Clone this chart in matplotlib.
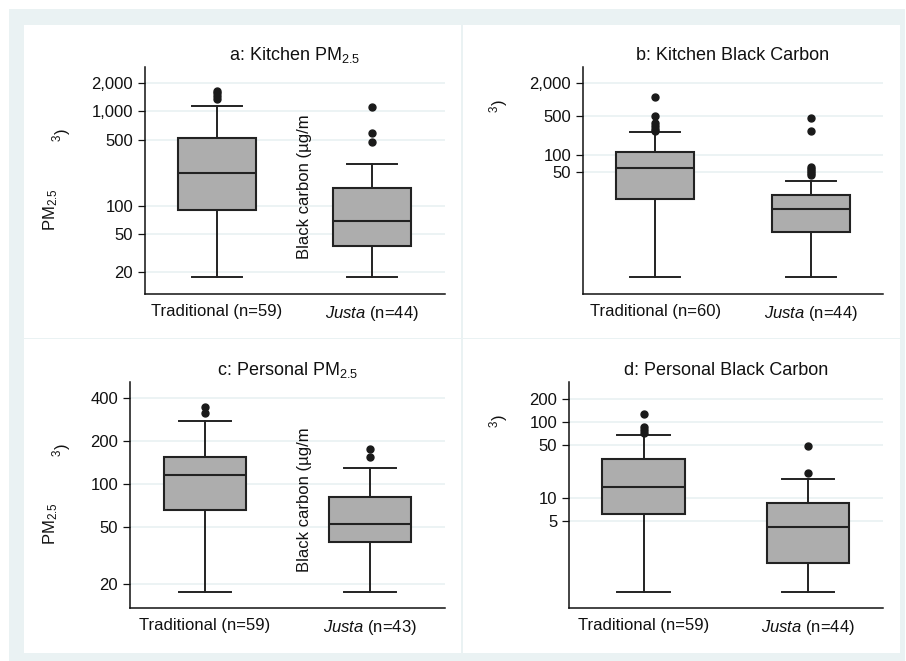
import matplotlib
matplotlib.use("Agg")
import matplotlib.pyplot as plt
from matplotlib.patches import Rectangle

plt.rcParams['font.family'] = ['Liberation Sans', 'DejaVu Sans']
plt.rcParams['mathtext.fontset'] = 'custom'
plt.rcParams['mathtext.rm'] = 'Liberation Sans'
plt.rcParams['mathtext.it'] = 'Liberation Sans:italic'

# ---- data ----
titles = ["a: Kitchen PM$_{2.5}$", "b: Kitchen Black Carbon",
          "c: Personal PM$_{2.5}$", "d: Personal Black Carbon"]
groups = ["Traditional", "Justa"]
n_a = [59, 44]
n_b = [60, 44]
n_c = [59, 43]
n_d = [59, 44]

# [whislo, q1, median, q3, whishi]
a_trad = [17.7, 90.6, 223, 524, 1143]
a_trad_out = [1350, 1450, 1550, 1650]
a_justa = [17.7, 37.7, 69.3, 155, 278]
a_justa_out = [475, 591, 1114]

b_trad = [0.647, 16.3, 59, 114.6, 262]
b_trad_out = [275, 300, 330, 380, 508, 1116]
b_justa = [0.647, 4.16, 10.8, 19.3, 34.5]
b_justa_out = [44, 48, 52, 56, 61, 272, 467]

c_trad = [17.6, 65.8, 115.6, 154.5, 276]
c_trad_out = [314, 345]
c_justa = [17.6, 39.3, 52.5, 81, 129.4]
c_justa_out = [154.5, 175.6]

d_trad = [0.58, 6.17, 13.9, 32.5, 67]
d_trad_out = [72, 78, 85, 126]
d_justa = [0.58, 1.40, 4.16, 8.6, 17.8]
d_justa_out = [21.3, 48.2]

ticks_a = [20, 50, 100, 500, 1000, 2000]
ticks_b = [50, 100, 500, 2000]
ticks_c = [20, 50, 100, 200, 400]
ticks_d = [5, 10, 50, 100, 200]

# ---- figure ----
W, H = 906, 661
fig = plt.figure(figsize=(W / 100, H / 100), dpi=100)
LIGHT = '#eaf2f3'

def fx(x):
    return x / W

def fy(y):
    return 1 - y / H

fig.patches.append(Rectangle((fx(9), fy(661)), fx(905) - fx(9), fy(9) - fy(661),
                             transform=fig.transFigure, facecolor=LIGHT,
                             edgecolor='none', zorder=-3))
for (x0, y0, x1, y1) in [(24, 25, 461.5, 337.5), (462.5, 25, 900, 337.5),
                         (24, 338.5, 461.5, 653), (462.5, 338.5, 900, 653)]:
    fig.patches.append(Rectangle((fx(x0), fy(y1)), fx(x1) - fx(x0), fy(y0) - fy(y1),
                                 transform=fig.transFigure, facecolor='white',
                                 edgecolor='none', zorder=-2))

def fmt(v):
    return f"{v:,}"

def stats(v, out):
    return dict(whislo=v[0], q1=v[1], med=v[2], q3=v[3], whishi=v[4], fliers=out)

panels = [
    dict(box=(145, 67, 445, 294), ylim=(11.7, 2952), xlim=(0.535, 2.47),
         data=[(a_trad, a_trad_out), (a_justa, a_justa_out)], ticks=ticks_a, n=n_a),
    dict(box=(583, 67, 883, 294), ylim=(0.32, 3880), xlim=(0.538, 2.46),
         data=[(b_trad, b_trad_out), (b_justa, b_justa_out)], ticks=ticks_b, n=n_b),
    dict(box=(130, 382, 445, 608), ylim=(13.6, 517), xlim=(0.545, 2.455),
         data=[(c_trad, c_trad_out), (c_justa, c_justa_out)], ticks=ticks_c, n=n_c),
    dict(box=(569, 382, 883, 608), ylim=(0.36, 334), xlim=(0.547, 2.456),
         data=[(d_trad, d_trad_out), (d_justa, d_justa_out)], ticks=ticks_d, n=n_d),
]

EDGE = '#222222'
for i, p in enumerate(panels):
    x0, y0, x1, y1 = p['box']
    ax = fig.add_axes([fx(x0), fy(y1), fx(x1) - fx(x0), fy(y0) - fy(y1)])
    ax.set_zorder(1)
    ax.set_facecolor('none')
    ax.set_yscale('log')
    st = [stats(v, o) for v, o in p['data']]
    ax.bxp(st, positions=[1, 2], widths=0.5, patch_artist=True, showfliers=True,
           boxprops=dict(facecolor='#adadad', edgecolor=EDGE, linewidth=1.5),
           medianprops=dict(color=EDGE, linewidth=1.5),
           whiskerprops=dict(color=EDGE, linewidth=1.4),
           capprops=dict(color=EDGE, linewidth=1.4),
           capwidths=0.32,
           flierprops=dict(marker='o', markerfacecolor='#1a1a1a',
                           markeredgecolor='#1a1a1a', markersize=5, linestyle='none'))
    ax.set_xlim(*p['xlim'])
    ax.set_ylim(*p['ylim'])
    ax.set_yticks(p['ticks'])
    ax.set_yticklabels([fmt(t) for t in p['ticks']])
    ax.yaxis.set_minor_locator(matplotlib.ticker.NullLocator())
    ax.set_xticks([1, 2])
    ax.set_xticklabels([f"Traditional (n={p['n'][0]})",
                        f"$\\mathit{{Justa}}$ (n={p['n'][1]})"])
    ax.tick_params(axis='x', length=0, pad=7, labelsize=12, colors='#111111')
    ax.tick_params(axis='y', length=5, width=0.9, pad=3.5, labelsize=12,
                   colors='#111111', direction='out')
    ax.grid(axis='y', color=LIGHT, linewidth=1.3, zorder=0)
    ax.set_axisbelow(True)
    for s in ['top', 'right']:
        ax.spines[s].set_visible(False)
    for s in ['left', 'bottom']:
        ax.spines[s].set_color('#111111')
        ax.spines[s].set_linewidth(1.1)
    ax.set_title(titles[i], fontsize=13, pad=5, color='#111111')

# ---- leftover axis-title fragments, as they appear ----
def ftext(x, y, s, **kw):
    fig.text(fx(x), fy(y), s, ha='center', va='center', rotation=90,
             fontsize=12, color='#111111', zorder=2, **kw)

ftext(51, 210, "PM$_{2.5}$")
ftext(51, 524, "PM$_{2.5}$")
ftext(62, 135, "$^{3}$)")
ftext(62, 450, "$^{3}$)")
ftext(499, 106, "$^{3}$)")
ftext(499, 421, "$^{3}$)")
ftext(305, 187, "Black carbon (\u00b5g/m")
ftext(305, 500, "Black carbon (\u00b5g/m")

fig.savefig("out.png", dpi=100)
